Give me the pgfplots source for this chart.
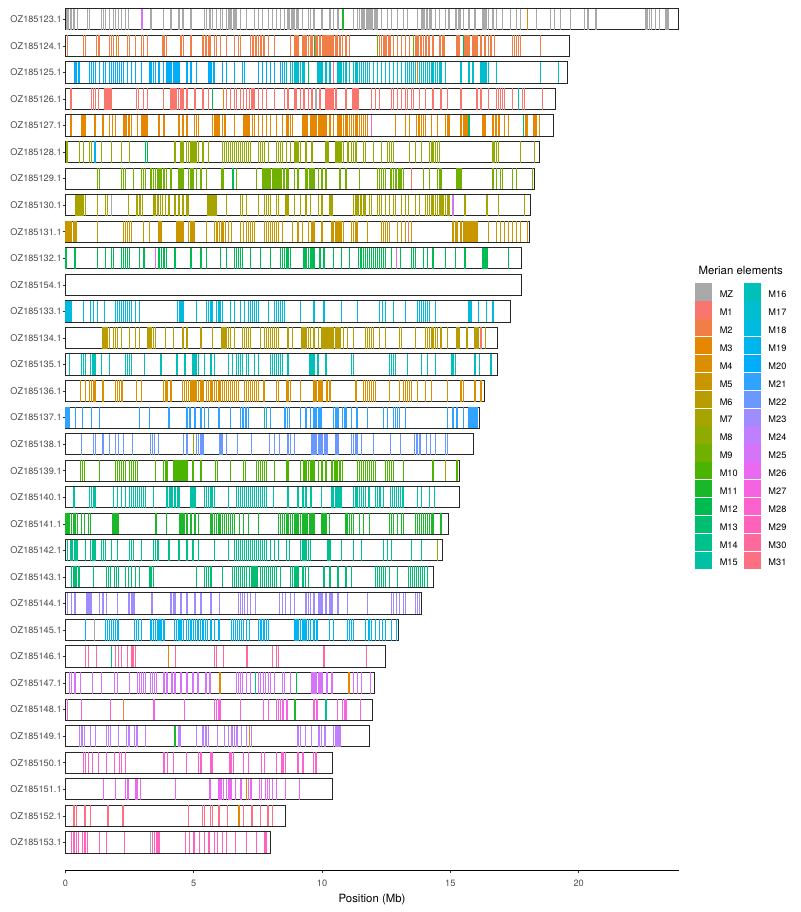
\documentclass[border=0pt]{standalone}
\usepackage{pgfplots}
\pgfplotsset{compat=1.18}
\usepackage{fontspec}
\setmainfont{TeX Gyre Heros}

% Merian element palette
\definecolor{cMZ}{HTML}{A9A9A9}
\definecolor{cM1}{HTML}{F8766D}
\definecolor{cM2}{HTML}{EF7F46}
\definecolor{cM3}{HTML}{E58700}
\definecolor{cM4}{HTML}{D98F00}
\definecolor{cM5}{HTML}{CA9600}
\definecolor{cM6}{HTML}{B99D00}
\definecolor{cM7}{HTML}{A7A400}
\definecolor{cM8}{HTML}{8FAA00}
\definecolor{cM9}{HTML}{71AF00}
\definecolor{cM10}{HTML}{4BB400}
\definecolor{cM11}{HTML}{1AB72A}
\definecolor{cM12}{HTML}{00BB52}
\definecolor{cM13}{HTML}{00BE71}
\definecolor{cM14}{HTML}{00C08C}
\definecolor{cM15}{HTML}{00C1A4}
\definecolor{cM16}{HTML}{00C0B9}
\definecolor{cM17}{HTML}{00BECD}
\definecolor{cM18}{HTML}{00BADF}
\definecolor{cM19}{HTML}{00B4EE}
\definecolor{cM20}{HTML}{00ADFA}
\definecolor{cM21}{HTML}{2FA3FF}
\definecolor{cM22}{HTML}{6A98FF}
\definecolor{cM23}{HTML}{9F8CFF}
\definecolor{cM24}{HTML}{BF7FFF}
\definecolor{cM25}{HTML}{D674F9}
\definecolor{cM26}{HTML}{E96AF0}
\definecolor{cM27}{HTML}{F663E0}
\definecolor{cM28}{HTML}{FC62CE}
\definecolor{cM29}{HTML}{FF62BB}
\definecolor{cM30}{HTML}{FF6A9D}
\definecolor{cM31}{HTML}{FC7082}

% a gene: a thin filled bar spanning the chromosome box height
\pgfdeclareplotmark{genebar}{%
  \pgfpathrectangle{\pgfqpoint{-0.65pt}{-10.6pt}}{\pgfqpoint{1.3pt}{21.2pt}}%
  \pgfusepathqfill}

\pgfplotsset{
  gene/.style={forget plot, only marks, mark=genebar, color=#1,
               mark options={draw=none, fill=#1}},
}

\begin{document}
\begin{tikzpicture}
\begin{axis}[
  scale only axis, width=613.3pt, height=866.6pt,
  xmin=0, xmax=23.9, ymin=-0.04, ymax=32.6,
  axis x line*=bottom, axis y line*=left,
  y axis line style={draw=none},
  x axis line style={line width=0.55pt, -},
  xtick={0,5,10,15,20},
  ytick={1,...,32},
  yticklabels={OZ185153.1,OZ185152.1,OZ185151.1,OZ185150.1,OZ185149.1,OZ185148.1,
    OZ185147.1,OZ185146.1,OZ185145.1,OZ185144.1,OZ185143.1,OZ185142.1,OZ185141.1,
    OZ185140.1,OZ185139.1,OZ185138.1,OZ185137.1,OZ185136.1,OZ185135.1,OZ185134.1,
    OZ185133.1,OZ185154.1,OZ185132.1,OZ185131.1,OZ185130.1,OZ185129.1,OZ185128.1,
    OZ185127.1,OZ185126.1,OZ185125.1,OZ185124.1,OZ185123.1},
  tick align=outside, major tick length=2.75pt,
  tick style={line width=0.55pt, color=black!80},
  ticklabel style={font=\fontsize{9.2}{11}\selectfont, text=black!70},
  xticklabel style={yshift=-4pt},
  yticklabel style={xshift=2.5pt},
  /pgf/number format/assume math mode=true,
  xlabel={Position (Mb)},
  xlabel style={font=\fontsize{11.4}{13}\selectfont},
  clip=false,
  legend columns=2,
  legend cell align=left,
  legend image code/.code={\fill[#1, draw=none] (0pt,-5.5pt) rectangle (17.28pt,11.78pt);},
  legend style={at={(rel axis cs:1.0266,0.6769)}, anchor=north west,
    draw=none, fill=none, inner sep=0pt, outer sep=0pt,
    font=\fontsize{9.2}{11}\selectfont, row sep=0.6pt,
    nodes={inner sep=0pt},
    /tikz/every odd column/.append style={column sep=7.5pt},
    /tikz/every even column/.append style={column sep=6pt}},
]

% ---- OZ185123.1 (y=32)
\addplot[gene=cMZ] coordinates {(0.06,32)(0.12,32)(0.22,32)(0.33,32)(0.48,32)(0.87,32)(0.94,32)(1.41,32)(1.49,32)(1.56,32)(1.72,32)(1.87,32)(1.95,32)(2.07,32)(2.18,32)(2.34,32)(2.45,32)(3.34,32)(3.81,32)(4.12,32)(4.43,32)(4.58,32)(4.89,32)(5.43,32)(5.51,32)(5.63,32)(5.74,32)(5.90,32)(6.05,32)(6.13,32)(6.28,32)(6.36,32)(6.42,32)(6.48,32)(6.55,32)(6.61,32)(6.67,32)(6.83,32)(7.06,32)(7.37,32)(7.52,32)(7.68,32)(7.91,32)(8.07,32)(8.22,32)(8.37,32)(8.53,32)(8.68,32)(8.74,32)(8.80,32)(8.87,32)(8.93,32)(9.00,32)(9.07,32)(9.23,32)(9.46,32)(9.54,32)(9.69,32)(10.0,32)(10.31,32)(10.46,32)(10.62,32)(11.24,32)(11.39,32)(11.47,32)(11.53,32)(11.60,32)(11.66,32)(11.72,32)(11.79,32)(11.85,32)(11.91,32)(11.98,32)(12.04,32)(12.10,32)(12.17,32)(12.33,32)(12.55,32)(12.71,32)(12.94,32)(13.17,32)(13.33,32)(13.72,32)(13.87,32)(13.93,32)(14.0,32)(14.06,32)(14.12,32)(14.19,32)(14.25,32)(14.41,32)(14.57,32)(14.80,32)(14.95,32)(15.19,32)(15.25,32)(15.31,32)(15.38,32)(15.5,32)(15.73,32)(15.96,32)(16.27,32)(16.33,32)(16.39,32)(16.5,32)(16.66,32)(16.81,32)(17.04,32)(17.35,32)(17.59,32)(17.74,32)(18.36,32)(18.9,32)(19.05,32)(19.29,32)(19.67,32)(20.22,32)(20.37,32)(20.68,32)(22.62,32)(22.69,32)(22.77,32)(22.85,32)(23.0,32)(23.16,32)(23.39,32)(23.44,32)(23.48,32)};
\addplot[gene=cM25] coordinates {(2.99,32)};
\addplot[gene=cM11] coordinates {(10.82,32)};
\addplot[gene=cM4] coordinates {(18.02,32)};

% ---- OZ185124.1 (y=31)
\addplot[gene=cM2] coordinates {(0.09,31)(0.71,31)(0.79,31)(1.21,31)(1.28,31)(1.33,31)(1.72,31)(1.80,31)(1.87,31)(2.07,31)(2.41,31)(2.49,31)(2.72,31)(2.96,31)(3.03,31)(3.19,31)(3.78,31)(3.84,31)(3.93,31)(4.5,31)(4.61,31)(4.89,31)(5.33,31)(5.39,31)(5.45,31)(5.51,31)(5.58,31)(5.63,31)(5.82,31)(5.90,31)(6.05,31)(6.28,31)(6.59,31)(6.75,31)(6.83,31)(7.21,31)(7.28,31)(7.34,31)(7.40,31)(7.46,31)(7.52,31)(7.59,31)(7.65,31)(7.71,31)(7.76,31)(7.91,31)(8.14,31)(8.76,31)(8.92,31)(8.99,31)(9.07,31)(9.23,31)(9.30,31)(9.38,31)(9.46,31)(9.57,31)(9.63,31)(9.77,31)(9.83,31)(9.89,31)(9.95,31)(10.02,31)(10.08,31)(10.14,31)(10.2,31)(10.27,31)(10.33,31)(10.39,31)(10.45,31)(10.52,31)(10.58,31)(10.7,31)(10.8,31)(10.93,31)(11.08,31)(12.24,31)(12.32,31)(12.40,31)(12.46,31)(12.52,31)(12.59,31)(12.65,31)(12.79,31)(12.94,31)(13.1,31)(13.25,31)(13.41,31)(13.64,31)(13.7,31)(13.76,31)(13.83,31)(13.89,31)(13.95,31)(14.02,31)(14.08,31)(14.14,31)(14.2,31)(14.33,31)(14.57,31)(14.63,31)(14.71,31)(14.77,31)(15.26,31)(15.34,31)(15.57,31)(15.65,31)(15.73,31)(15.88,31)(15.96,31)(16.04,31)(16.19,31)(16.35,31)(16.5,31)(16.58,31)(16.73,31)(17.43,31)(17.5,31)(17.57,31)(17.65,31)(17.74,31)(18.51,31)};
\addplot[gene=cM4] coordinates {(2.0,31)};
\addplot[gene=cM12] coordinates {(9.71,31)(15.5,31)};
\addplot[gene=cM9] coordinates {(12.17,31)(13.56,31)};

% ---- OZ185125.1 (y=30)
\addplot[gene=cM20] coordinates {(0.37,30)(0.43,30)(0.5,30)(0.56,30)(0.94,30)(1.02,30)(1.1,30)(1.18,30)(1.33,30)(1.49,30)(1.56,30)(1.72,30)(1.80,30)(1.87,30)(1.95,30)(2.03,30)(2.11,30)(2.18,30)(2.26,30)(2.41,30)(2.57,30)(2.72,30)(2.96,30)(3.27,30)(3.34,30)(3.42,30)(3.5,30)(3.65,30)(3.81,30)(3.96,30)(4.04,30)(4.12,30)(4.2,30)(4.27,30)(4.35,30)(4.43,30)(4.74,30)(4.89,30)(5.12,30)(5.59,30)(5.63,30)(5.7,30)(5.76,30)(5.82,30)(6.13,30)(6.28,30)(6.59,30)(6.9,30)(6.98,30)(7.52,30)(7.68,30)(7.83,30)(7.99,30)(8.14,30)(8.37,30)(8.45,30)};
\addplot[gene=cM17] coordinates {(8.53,30)(8.61,30)(8.76,30)(8.84,30)(8.92,30)(8.99,30)(9.07,30)(9.15,30)(9.23,30)(9.3,30)(9.84,30)(9.92,30)(10.0,30)(10.15,30)(10.31,30)(10.62,30)(10.7,30)(10.77,30)(10.85,30)(10.93,30)(11.08,30)(11.24,30)(11.32,30)(11.39,30)(11.47,30)(11.55,30)(11.63,30)(11.7,30)(11.78,30)(11.86,30)(12.01,30)(12.17,30)(12.32,30)(12.48,30)(12.63,30)(12.79,30)(12.94,30)(13.1,30)(13.25,30)(13.33,30)(13.41,30)(13.48,30)(13.56,30)(13.64,30)(13.79,30)(13.87,30)(13.95,30)(14.02,30)(14.1,30)(14.18,30)(14.26,30)(14.33,30)(14.41,30)(14.49,30)(14.57,30)(14.64,30)(14.8,30)(15.42,30)(15.73,30)(15.88,30)(16.19,30)(16.27,30)(16.35,30)(16.42,30)(16.5,30)(16.81,30)(18.51,30)(19.21,30)};
\addplot[gene=cM12] coordinates {(9.46,30)};
\addplot[gene=cM30] coordinates {(10.46,30)};
\addplot[gene=cM3] coordinates {(13.72,30)};

% ---- OZ185126.1 (y=29)
\addplot[gene=cM1] coordinates {(0.22,29)(1.02,29)(1.1,29)(1.18,29)(1.28,29)(1.52,29)(1.58,29)(1.64,29)(1.7,29)(1.76,29)(1.8,29)(2.76,29)(2.85,29)(3.03,29)(3.19,29)(3.81,29)(4.09,29)(4.15,29)(4.21,29)(4.27,29)(4.33,29)(4.4,29)(4.5,29)(4.58,29)(4.74,29)(5.05,29)(5.36,29)(5.59,29)(6.28,29)(6.44,29)(6.59,29)(6.67,29)(6.83,29)(6.94,29)(7.06,29)(7.18,29)(7.24,29)(7.31,29)(7.37,29)(7.52,29)(7.68,29)(7.83,29)(8.14,29)(8.53,29)(8.68,29)(8.92,29)(8.99,29)(9.15,29)(9.3,29)(9.46,29)(9.61,29)(9.92,29)(10.15,29)(10.23,29)(10.31,29)(10.39,29)(10.46,29)(10.54,29)(10.93,29)(11.21,29)(11.27,29)(11.33,29)(11.39,29)(11.42,29)(11.93,29)(12.09,29)(12.24,29)(12.71,29)(12.79,29)(12.94,29)(13.1,29)(13.25,29)(13.33,29)(13.48,29)(13.56,29)(13.79,29)(14.02,29)(14.33,29)(14.64,29)(14.88,29)(15.42,29)(16.04,29)(16.19,29)(16.5,29)(16.81,29)(16.89,29)(16.96,29)(17.04,29)(17.12,29)(17.43,29)(17.82,29)(17.89,29)(18.59,29)};
\addplot[gene=cM12] coordinates {(5.74,29)};
\addplot[gene=cM3] coordinates {(6.16,29)};
\addplot[gene=cMZ] coordinates {(9.77,29)};
\addplot[gene=cM16] coordinates {(17.66,29)};

% ---- OZ185127.1 (y=28)
\addplot[gene=cM3] coordinates {(0.22,28)(0.63,28)(0.68,28)(0.73,28)(0.77,28)(1.15,28)(1.46,28)(1.72,28)(1.83,28)(1.95,28)(2.26,28)(2.32,28)(2.38,28)(2.45,28)(2.51,28)(2.57,28)(2.8,28)(2.96,28)(3.02,28)(3.08,28)(3.14,28)(3.19,28)(3.65,28)(3.84,28)(4.43,28)(4.58,28)(4.74,28)(5.02,28)(5.12,28)(5.2,28)(5.74,28)(5.8,28)(5.87,28)(5.93,28)(5.98,28)(6.13,28)(6.19,28)(6.25,28)(6.59,28)(6.93,28)(7.0,28)(7.06,28)(7.12,28)(7.18,28)(7.29,28)(7.37,28)(7.52,28)(7.68,28)(7.83,28)(7.99,28)(8.22,28)(8.45,28)(8.61,28)(8.68,28)(8.76,28)(8.84,28)(9.26,28)(9.32,28)(9.38,28)(9.44,28)(9.54,28)(9.61,28)(9.69,28)(9.77,28)(9.85,28)(9.92,28)(10.0,28)(10.08,28)(10.15,28)(10.31,28)(10.46,28)(10.62,28)(10.7,28)(10.77,28)(10.85,28)(10.93,28)(11.0,28)(11.08,28)(11.16,28)(11.24,28)(11.32,28)(11.39,28)(11.47,28)(11.55,28)(11.63,28)(11.7,28)(11.78,28)(12.86,28)(13.25,28)(13.41,28)(13.68,28)(13.75,28)(13.81,28)(13.87,28)(13.95,28)(14.02,28)(14.26,28)(14.49,28)(14.8,28)(14.88,28)(14.95,28)(15.42,28)(15.5,28)(15.57,28)(15.65,28)(16.27,28)(16.35,28)(16.63,28)(16.69,28)(16.75,28)(16.81,28)(16.87,28)(16.93,28)(17.12,28)(17.28,28)(17.93,28)(17.99,28)(18.24,28)(18.3,28)(18.36,28)(18.48,28)};
\addplot[gene=cM28] coordinates {(11.93,28)};
\addplot[gene=cM13] coordinates {(15.73,28)(17.85,28)};

% ---- OZ185128.1 (y=27)
\addplot[gene=cM8] coordinates {(0.06,27)(0.56,27)(0.71,27)(0.94,27)(1.02,27)(1.41,27)(1.8,27)(2.18,27)(2.49,27)(4.27,27)(4.5,27)(4.58,27)(4.71,27)(4.81,27)(4.89,27)(4.97,27)(5.05,27)(5.12,27)(5.2,27)(5.36,27)(5.59,27)(6.13,27)(6.21,27)(6.28,27)(6.36,27)(6.44,27)(6.52,27)(6.59,27)(6.67,27)(6.75,27)(6.83,27)(6.9,27)(6.98,27)(7.06,27)(7.14,27)(7.21,27)(7.52,27)(7.6,27)(7.68,27)(7.76,27)(7.91,27)(8.22,27)(8.3,27)(8.37,27)(8.45,27)(8.61,27)(8.76,27)(8.92,27)(8.99,27)(9.07,27)(9.15,27)(9.38,27)(9.61,27)(10.15,27)(10.23,27)(10.54,27)(10.62,27)(10.7,27)(10.77,27)(10.85,27)(11.01,27)(11.16,27)(11.24,27)(11.32,27)(11.63,27)(11.7,27)(12.01,27)(12.32,27)(12.55,27)(12.63,27)(12.71,27)(12.79,27)(13.41,27)(13.64,27)(13.87,27)(14.18,27)(14.26,27)(14.33,27)(14.41,27)(14.49,27)(14.57,27)(16.66,27)(16.73,27)(16.81,27)(16.89,27)(17.74,27)(18.28,27)};
\addplot[gene=cM19] coordinates {(1.15,27)};
\addplot[gene=cM12] coordinates {(3.11,27)(3.19,27)};

% ---- OZ185129.1 (y=26)
\addplot[gene=cM9] coordinates {(1.25,26)(1.33,26)(2.18,26)(2.26,26)(2.34,26)(2.65,26)(2.96,26)(3.03,26)(3.11,26)(3.34,26)(3.42,26)(3.5,26)(3.58,26)(3.65,26)(3.73,26)(3.84,26)(3.93,26)(4.12,26)(4.43,26)(4.5,26)(4.58,26)(4.81,26)(4.89,26)(4.97,26)(5.12,26)(5.28,26)(5.51,26)(6.1,26)(6.16,26)(6.67,26)(7.45,26)(7.68,26)(7.74,26)(7.8,26)(7.86,26)(7.93,26)(7.99,26)(8.06,26)(8.11,26)(8.17,26)(8.24,26)(8.3,26)(8.36,26)(8.42,26)(8.49,26)(8.55,26)(8.61,26)(8.68,26)(8.92,26)(9.07,26)(9.38,26)(9.44,26)(9.5,26)(9.57,26)(9.63,26)(9.69,26)(9.85,26)(10.0,26)(10.15,26)(10.7,26)(10.93,26)(11.47,26)(12.17,26)(12.24,26)(12.32,26)(12.4,26)(12.48,26)(12.66,26)(12.72,26)(12.79,26)(12.85,26)(12.91,26)(12.97,26)(13.04,26)(13.1,26)(13.17,26)(13.95,26)(14.18,26)(14.49,26)(14.57,26)(14.64,26)(15.26,26)(15.34,26)(15.42,26)(16.66,26)(16.81,26)(16.96,26)(17.04,26)(17.43,26)(17.59,26)(18.21,26)};
\addplot[gene=cM12] coordinates {(6.53,26)};
\addplot[gene=cM1] coordinates {(13.48,26)};

% ---- OZ185130.1 (y=25)
\addplot[gene=cM7] coordinates {(0.41,25)(0.47,25)(0.53,25)(0.59,25)(0.65,25)(0.71,25)(0.77,25)(1.25,25)(1.56,25)(1.64,25)(2.45,25)(2.76,25)(2.82,25)(2.88,25)(2.94,25)(3.0,25)(3.45,25)(3.51,25)(3.58,25)(3.64,25)(3.7,25)(3.78,25)(3.89,25)(4.04,25)(4.27,25)(4.43,25)(4.58,25)(4.74,25)(4.81,25)(5.54,25)(5.6,25)(5.67,25)(5.73,25)(5.79,25)(5.85,25)(5.9,25)(6.28,25)(6.83,25)(6.9,25)(7.06,25)(7.52,25)(7.76,25)(7.83,25)(7.91,25)(7.99,25)(8.22,25)(8.3,25)(8.58,25)(8.64,25)(8.7,25)(8.92,25)(9.15,25)(9.38,25)(9.54,25)(9.85,25)(10.0,25)(10.31,25)(10.39,25)(11.24,25)(11.3,25)(11.36,25)(11.42,25)(11.49,25)(11.55,25)(11.61,25)(11.67,25)(11.86,25)(11.93,25)(12.17,25)(12.24,25)(12.32,25)(12.48,25)(12.63,25)(12.79,25)(12.86,25)(13.1,25)(13.25,25)(13.37,25)(13.64,25)(13.79,25)(14.02,25)(14.1,25)(14.18,25)(14.26,25)(14.33,25)(14.41,25)(14.49,25)(14.57,25)(14.64,25)(14.72,25)(14.8,25)(14.88,25)(14.95,25)(15.57,25)(16.43,25)(16.89,25)(17.89,25)};
\addplot[gene=cMZ] coordinates {(1.8,25)};
\addplot[gene=cM25] coordinates {(15.11,25)};

% ---- OZ185131.1 (y=24)
\addplot[gene=cM5] coordinates {(0.02,24)(0.1,24)(0.18,24)(0.25,24)(0.33,24)(0.41,24)(1.25,24)(2.26,24)(2.34,24)(2.41,24)(2.49,24)(2.57,24)(3.03,24)(3.27,24)(3.65,24)(3.73,24)(4.35,24)(4.43,24)(4.5,24)(4.58,24)(4.81,24)(4.89,24)(4.97,24)(5.02,24)(5.51,24)(5.82,24)(5.88,24)(5.94,24)(6.01,24)(6.07,24)(6.13,24)(6.16,24)(6.25,24)(6.36,24)(6.47,24)(6.83,24)(6.94,24)(7.06,24)(7.14,24)(7.21,24)(7.29,24)(7.37,24)(7.76,24)(7.83,24)(7.91,24)(7.99,24)(8.07,24)(8.14,24)(8.22,24)(8.3,24)(8.45,24)(8.84,24)(9.07,24)(9.23,24)(9.46,24)(9.61,24)(9.69,24)(10.0,24)(10.39,24)(10.46,24)(10.54,24)(10.62,24)(10.7,24)(10.77,24)(10.85,24)(11.16,24)(11.24,24)(11.32,24)(11.36,24)(11.78,24)(12.32,24)(12.4,24)(12.48,24)(12.55,24)(12.63,24)(12.94,24)(13.1,24)(13.25,24)(13.48,24)(15.11,24)(15.19,24)(15.26,24)(15.42,24)(15.5,24)(15.57,24)(15.65,24)(15.73,24)(15.8,24)(15.88,24)(15.96,24)(16.04,24)(16.5,24)(16.81,24)(16.96,24)(17.12,24)(17.28,24)(17.43,24)(17.59,24)(17.74,24)};
\addplot[gene=cM1] coordinates {(13.37,24)};
\addplot[gene=cM3] coordinates {(18.02,24)};

% ---- OZ185132.1 (y=23)
\addplot[gene=cM12] coordinates {(0.02,23)(0.37,23)(1.25,23)(1.56,23)(1.8,23)(1.87,23)(2.18,23)(2.26,23)(2.34,23)(2.41,23)(2.49,23)(2.88,23)(3.03,23)(3.08,23)(3.62,23)(3.68,23)(3.75,23)(3.81,23)(3.87,23)(3.93,23)(4.27,23)(4.89,23)(5.28,23)(5.51,23)(6.05,23)(6.28,23)(6.59,23)(6.67,23)(6.75,23)(6.83,23)(6.9,23)(7.21,23)(7.6,23)(7.99,23)(8.37,23)(8.45,23)(8.53,23)(8.61,23)(8.68,23)(8.76,23)(9.3,23)(9.38,23)(9.46,23)(9.54,23)(9.61,23)(9.69,23)(9.92,23)(10.08,23)(10.46,23)(10.77,23)(11.08,23)(11.42,23)(11.49,23)(11.55,23)(11.63,23)(11.7,23)(11.78,23)(11.86,23)(11.93,23)(12.01,23)(12.09,23)(12.17,23)(12.24,23)(12.32,23)(12.4,23)(12.48,23)(12.71,23)(13.07,23)(13.48,23)(13.56,23)(13.64,23)(13.95,23)(14.1,23)(14.33,23)(14.8,23)(15.19,23)(15.57,23)(16.27,23)(16.35,23)(16.43,23)(17.28,23)};
\addplot[gene=cM26] coordinates {(3.5,23)(12.91,23)};

% ---- OZ185133.1 (y=21)
\addplot[gene=cM18] coordinates {(0.02,21)(0.1,21)(0.18,21)(0.25,21)(0.71,21)(0.99,21)(1.1,21)(1.25,21)(1.52,21)(1.95,21)(2.03,21)(2.11,21)(2.18,21)(2.26,21)(2.34,21)(2.41,21)(2.49,21)(2.57,21)(2.72,21)(2.88,21)(4.38,21)(4.46,21)(4.54,21)(4.61,21)(5.12,21)(5.51,21)(5.59,21)(5.67,21)(5.74,21)(5.9,21)(5.98,21)(6.05,21)(6.13,21)(6.44,21)(6.59,21)(6.83,21)(6.98,21)(7.14,21)(7.21,21)(7.29,21)(7.37,21)(7.45,21)(7.52,21)(7.91,21)(8.14,21)(8.22,21)(8.3,21)(8.37,21)(8.45,21)(8.53,21)(9.15,21)(9.69,21)(10.08,21)(10.77,21)(11.39,21)(12.24,21)(12.35,21)(12.48,21)(12.79,21)(13.25,21)(13.72,21)(13.79,21)(13.87,21)(13.95,21)(14.02,21)(14.1,21)(14.18,21)(14.41,21)(15.73,21)(15.8,21)(16.11,21)(16.42,21)(16.66,21)};

% ---- OZ185134.1 (y=20)
\addplot[gene=cM6] coordinates {(1.46,20)(1.52,20)(1.58,20)(1.64,20)(1.72,20)(1.87,20)(1.95,20)(2.03,20)(2.18,20)(2.49,20)(2.72,20)(2.88,20)(3.22,20)(3.28,20)(3.34,20)(3.42,20)(3.5,20)(3.89,20)(4.2,20)(4.58,20)(4.74,20)(5.28,20)(5.74,20)(6.1,20)(6.16,20)(6.22,20)(6.28,20)(6.36,20)(6.44,20)(6.59,20)(6.9,20)(6.98,20)(7.06,20)(7.14,20)(7.21,20)(7.6,20)(7.76,20)(7.83,20)(7.91,20)(7.99,20)(8.07,20)(8.14,20)(8.22,20)(8.3,20)(8.68,20)(8.84,20)(9.2,20)(9.26,20)(9.32,20)(9.38,20)(9.46,20)(9.54,20)(9.69,20)(9.85,20)(10.0,20)(10.08,20)(10.15,20)(10.23,20)(10.31,20)(10.39,20)(10.46,20)(10.54,20)(10.62,20)(10.7,20)(10.85,20)(11.0,20)(11.24,20)(11.7,20)(11.78,20)(11.86,20)(11.93,20)(12.01,20)(12.24,20)(12.48,20)(13.02,20)(13.1,20)(13.64,20)(14.02,20)(14.1,20)(14.18,20)(14.26,20)(14.33,20)(14.41,20)(14.49,20)(14.64,20)(14.88,20)(15.26,20)(15.34,20)(15.65,20)(15.96,20)(16.04,20)(16.11,20)(16.38,20)};
\addplot[gene=cM1] coordinates {(16.19,20)};

% ---- OZ185135.1 (y=19)
\addplot[gene=cM16] coordinates {(0.17,19)(0.64,19)(0.71,19)(0.79,19)(0.99,19)(1.07,19)(1.15,19)(1.41,19)(1.72,19)(2.34,19)(2.41,19)(2.49,19)(2.57,19)(3.07,19)(3.73,19)(4.35,19)(4.66,19)(4.97,19)(5.05,19)(5.12,19)(5.2,19)(5.43,19)(5.67,19)(5.82,19)(6.36,19)(6.52,19)(6.67,19)(6.75,19)(6.83,19)(6.9,19)(7.06,19)(7.14,19)(7.37,19)(7.52,19)(7.99,19)(8.07,19)(8.14,19)(8.22,19)(8.3,19)(8.37,19)(8.45,19)(8.68,19)(9.5,19)(9.57,19)(9.63,19)(9.69,19)(9.84,19)(10.15,19)(11.16,19)(11.24,19)(12.63,19)(12.71,19)(12.79,19)(12.86,19)(13.33,19)(13.87,19)(14.1,19)(14.41,19)(15.04,19)(15.11,19)(15.19,19)(15.96,19)(16.15,19)(16.58,19)};

% ---- OZ185136.1 (y=18)
\addplot[gene=cM4] coordinates {(0.59,18)(0.79,18)(0.94,18)(1.02,18)(1.1,18)(1.15,18)(1.46,18)(1.95,18)(2.03,18)(2.11,18)(2.18,18)(2.23,18)(2.76,18)(2.96,18)(3.81,18)(3.89,18)(3.96,18)(4.12,18)(4.55,18)(4.63,18)(4.71,18)(4.81,18)(4.89,18)(4.97,18)(5.05,18)(5.12,18)(5.2,18)(5.28,18)(5.36,18)(5.51,18)(5.59,18)(5.67,18)(5.74,18)(5.82,18)(5.9,18)(5.98,18)(6.05,18)(6.13,18)(6.21,18)(6.28,18)(6.36,18)(6.44,18)(6.52,18)(6.59,18)(6.67,18)(6.75,18)(6.98,18)(7.06,18)(7.14,18)(7.21,18)(7.29,18)(7.37,18)(7.45,18)(7.52,18)(7.71,18)(7.76,18)(8.22,18)(8.3,18)(8.61,18)(8.68,18)(8.76,18)(9.15,18)(9.69,18)(9.77,18)(9.85,18)(9.92,18)(10.0,18)(10.19,18)(10.31,18)(11.32,18)(11.63,18)(11.7,18)(11.78,18)(11.86,18)(11.93,18)(12.01,18)(12.09,18)(12.63,18)(13.02,18)(13.17,18)(13.25,18)(13.33,18)(13.41,18)(13.48,18)(13.72,18)(14.02,18)(14.26,18)(14.88,18)(15.42,18)(15.5,18)(15.96,18)(16.19,18)};

% ---- OZ185137.1 (y=17)
\addplot[gene=cM21] coordinates {(0.02,17)(0.1,17)(0.17,17)(0.4,17)(0.68,17)(1.02,17)(1.33,17)(2.88,17)(3.27,17)(4.04,17)(4.71,17)(4.77,17)(4.83,17)(4.86,17)(5.05,17)(5.28,17)(5.43,17)(5.59,17)(5.98,17)(6.44,17)(6.83,17)(6.89,17)(6.95,17)(7.01,17)(7.07,17)(7.14,17)(7.83,17)(7.99,17)(8.53,17)(8.59,17)(8.65,17)(8.73,17)(9.15,17)(9.38,17)(9.54,17)(9.69,17)(9.77,17)(9.85,17)(9.92,17)(9.97,17)(10.46,17)(10.54,17)(10.62,17)(10.8,17)(10.87,17)(10.93,17)(11.16,17)(11.36,17)(11.78,17)(12.4,17)(12.55,17)(12.79,17)(12.86,17)(12.94,17)(13.02,17)(13.25,17)(14.88,17)(15.11,17)(15.26,17)(15.5,17)(15.73,17)(15.8,17)(15.88,17)(15.96,17)(16.04,17)};
\addplot[gene=cM14] coordinates {(7.76,17)};

% ---- OZ185138.1 (y=16)
\addplot[gene=cM22] coordinates {(0.63,16)(1.1,16)(1.18,16)(1.46,16)(1.72,16)(1.95,16)(2.07,16)(2.26,16)(2.62,16)(3.31,16)(3.39,16)(3.47,16)(3.62,16)(4.61,16)(4.74,16)(5.12,16)(5.2,16)(5.28,16)(5.36,16)(6.02,16)(6.1,16)(6.28,16)(6.72,16)(7.24,16)(7.96,16)(8.14,16)(8.34,16)(8.68,16)(8.76,16)(8.92,16)(9.61,16)(9.69,16)(9.77,16)(9.85,16)(9.92,16)(10.0,16)(10.12,16)(10.19,16)(10.54,16)(10.62,16)(11.16,16)(11.24,16)(11.32,16)(11.36,16)(11.55,16)(12.01,16)(12.68,16)(13.07,16)(13.61,16)(13.67,16)(13.73,16)(13.79,16)(13.84,16)(14.07,16)(14.23,16)(14.41,16)(14.8,16)(14.88,16)};
\addplot[gene=cM8] coordinates {(5.0,16)};

% ---- OZ185139.1 (y=15)
\addplot[gene=cM10] coordinates {(0.59,15)(0.67,15)(0.74,15)(1.33,15)(1.95,15)(2.03,15)(2.11,15)(2.18,15)(2.26,15)(2.34,15)(2.49,15)(2.57,15)(2.65,15)(2.72,15)(2.8,15)(3.5,15)(3.81,15)(3.89,15)(3.96,15)(4.2,15)(4.27,15)(4.35,15)(4.43,15)(4.5,15)(4.58,15)(4.66,15)(4.74,15)(4.97,15)(5.28,15)(5.85,15)(5.94,15)(6.44,15)(6.94,15)(7.03,15)(7.45,15)(7.52,15)(7.6,15)(7.68,15)(7.76,15)(7.83,15)(8.14,15)(8.61,15)(8.68,15)(9.15,15)(9.3,15)(9.38,15)(9.46,15)(9.54,15)(9.61,15)(9.69,15)(9.85,15)(10.0,15)(10.15,15)(10.36,15)(10.42,15)(10.48,15)(10.54,15)(10.6,15)(10.67,15)(10.73,15)(10.8,15)(11.39,15)(11.47,15)(11.55,15)(11.63,15)(11.7,15)(11.78,15)(11.86,15)(11.93,15)(12.01,15)(12.09,15)(12.48,15)(12.55,15)(12.63,15)(12.71,15)(12.79,15)(13.17,15)(14.33,15)(15.26,15)};
\addplot[gene=cM7] coordinates {(14.8,15)};

% ---- OZ185140.1 (y=14)
\addplot[gene=cM15] coordinates {(0.33,14)(0.94,14)(1.02,14)(1.1,14)(1.15,14)(1.88,14)(2.03,14)(2.18,14)(2.34,14)(2.49,14)(2.57,14)(2.65,14)(2.72,14)(2.8,14)(2.88,14)(2.96,14)(3.03,14)(3.11,14)(3.42,14)(3.93,14)(3.99,14)(4.06,14)(4.12,14)(4.18,14)(4.24,14)(4.3,14)(4.37,14)(4.43,14)(4.89,14)(4.97,14)(5.05,14)(5.43,14)(5.51,14)(5.59,14)(5.67,14)(5.74,14)(5.82,14)(6.36,14)(6.67,14)(6.75,14)(6.83,14)(6.9,14)(6.98,14)(7.06,14)(7.14,14)(7.21,14)(7.29,14)(7.37,14)(7.45,14)(7.52,14)(7.6,14)(7.68,14)(7.76,14)(7.83,14)(8.11,14)(8.68,14)(9.07,14)(9.26,14)(9.38,14)(9.57,14)(9.97,14)(10.39,14)(10.46,14)(10.54,14)(10.62,14)(10.7,14)(10.74,14)(11.24,14)(11.32,14)(11.39,14)(11.47,14)(11.55,14)(11.63,14)(11.7,14)(11.83,14)(12.09,14)(12.17,14)(12.24,14)(12.29,14)(12.4,14)(12.66,14)(12.74,14)(12.82,14)(12.9,14)(12.97,14)(13.05,14)(13.13,14)(13.17,14)(13.72,14)(13.87,14)(14.18,14)(14.37,14)};

% ---- OZ185141.1 (y=13)
\addplot[gene=cM11] coordinates {(0.02,13)(0.1,13)(0.17,13)(0.25,13)(0.33,13)(0.4,13)(0.48,13)(0.63,13)(0.74,13)(0.9,13)(0.99,13)(1.83,13)(1.89,13)(1.95,13)(2.01,13)(2.07,13)(3.53,13)(3.93,13)(4.46,13)(4.52,13)(4.58,13)(4.64,13)(4.74,13)(4.89,13)(5.05,13)(5.2,13)(5.67,13)(5.74,13)(5.82,13)(5.9,13)(5.98,13)(6.05,13)(6.13,13)(6.21,13)(6.28,13)(6.36,13)(6.44,13)(6.52,13)(6.59,13)(6.78,13)(6.93,13)(7.14,13)(7.52,13)(8.3,13)(8.37,13)(8.45,13)(8.53,13)(8.61,13)(8.68,13)(8.76,13)(8.84,13)(8.92,13)(8.99,13)(9.07,13)(9.15,13)(9.26,13)(9.32,13)(9.38,13)(9.44,13)(9.5,13)(9.57,13)(9.63,13)(9.69,13)(10.0,13)(10.08,13)(10.15,13)(10.28,13)(10.93,13)(11.0,13)(11.08,13)(11.16,13)(11.24,13)(11.47,13)(11.63,13)(11.86,13)(12.63,13)(12.71,13)(12.79,13)(12.94,13)(13.1,13)(13.17,13)(13.64,13)(13.72,13)(13.79,13)(13.87,13)(13.95,13)(14.02,13)(14.1,13)(14.18,13)(14.26,13)(14.33,13)(14.64,13)};

% ---- OZ185142.1 (y=12)
\addplot[gene=cM14] coordinates {(0.09,12)(0.22,12)(0.29,12)(0.37,12)(0.45,12)(0.79,12)(0.99,12)(1.07,12)(1.15,12)(1.41,12)(1.49,12)(1.56,12)(1.8,12)(2.03,12)(2.49,12)(2.57,12)(2.65,12)(2.96,12)(3.42,12)(3.5,12)(3.58,12)(3.62,12)(4.04,12)(4.43,12)(4.74,12)(4.97,12)(5.2,12)(5.82,12)(6.36,12)(6.59,12)(6.67,12)(6.75,12)(6.83,12)(6.9,12)(6.98,12)(7.06,12)(7.14,12)(7.21,12)(7.29,12)(7.37,12)(7.45,12)(7.52,12)(7.6,12)(7.68,12)(7.76,12)(7.83,12)(7.99,12)(8.14,12)(8.3,12)(8.61,12)(8.73,12)(9.15,12)(9.23,12)(9.3,12)(9.38,12)(9.46,12)(9.54,12)(10.23,12)(10.31,12)(10.77,12)(11.24,12)(11.55,12)(12.4,12)(12.55,12)(12.71,12)(13.48,12)(13.87,12)};
\addplot[gene=cM8] coordinates {(14.49,12)};

% ---- OZ185143.1 (y=11)
\addplot[gene=cM13] coordinates {(0.25,11)(0.31,11)(0.37,11)(0.43,11)(0.53,11)(1.1,11)(1.61,11)(1.69,11)(1.76,11)(1.92,11)(2.0,11)(2.07,11)(2.34,11)(2.45,11)(2.57,11)(2.72,11)(2.88,11)(3.27,11)(3.34,11)(3.42,11)(5.12,11)(5.43,11)(5.51,11)(5.59,11)(5.67,11)(6.13,11)(6.52,11)(6.59,11)(6.67,11)(6.75,11)(6.83,11)(6.9,11)(6.98,11)(7.06,11)(7.18,11)(7.24,11)(7.31,11)(7.37,11)(7.43,11)(7.49,11)(7.6,11)(7.68,11)(7.76,11)(7.83,11)(7.91,11)(7.99,11)(8.07,11)(8.14,11)(8.22,11)(8.37,11)(8.76,11)(8.84,11)(8.92,11)(8.99,11)(9.07,11)(9.26,11)(9.35,11)(9.46,11)(10.08,11)(10.31,11)(10.62,11)(10.93,11)(11.16,11)(12.09,11)(12.17,11)(12.24,11)(12.32,11)(12.4,11)(12.48,11)(12.63,11)(12.94,11)(13.37,11)(13.45,11)(13.53,11)(13.61,11)(13.68,11)(13.76,11)(13.84,11)(13.92,11)(13.99,11)(14.1,11)};

% ---- OZ185144.1 (y=10)
\addplot[gene=cM23] coordinates {(0.09,10)(0.25,10)(0.37,10)(0.84,10)(0.9,10)(0.96,10)(1.02,10)(1.33,10)(1.46,10)(1.61,10)(2.03,10)(2.45,10)(2.51,10)(2.57,10)(2.63,10)(2.69,10)(3.37,10)(4.12,10)(4.2,10)(4.27,10)(4.5,10)(4.74,10)(5.05,10)(5.28,10)(5.67,10)(6.01,10)(6.75,10)(6.83,10)(6.9,10)(6.98,10)(7.09,10)(7.21,10)(7.41,10)(8.33,10)(8.45,10)(8.58,10)(8.76,10)(8.92,10)(9.38,10)(9.46,10)(9.54,10)(9.69,10)(9.85,10)(9.92,10)(10.0,10)(10.15,10)(10.31,10)(10.39,10)(10.62,10)(11.0,10)(11.78,10)(12.71,10)(12.79,10)(12.91,10)(13.02,10)(13.17,10)(13.25,10)(13.64,10)(13.72,10)(13.79,10)};

% ---- OZ185145.1 (y=9)
\addplot[gene=cM19] coordinates {(0.79,9)(1.56,9)(1.64,9)(1.72,9)(1.8,9)(1.87,9)(1.95,9)(2.03,9)(2.07,9)(2.69,9)(2.77,9)(2.85,9)(2.96,9)(3.34,9)(3.42,9)(3.5,9)(3.58,9)(3.65,9)(3.73,9)(3.84,9)(4.24,9)(4.32,9)(4.43,9)(4.5,9)(4.61,9)(4.71,9)(4.8,9)(4.89,9)(4.98,9)(5.08,9)(5.17,9)(5.26,9)(5.36,9)(5.45,9)(5.54,9)(5.67,9)(5.82,9)(5.98,9)(6.47,9)(6.55,9)(6.63,9)(6.7,9)(6.78,9)(6.86,9)(6.93,9)(7.06,9)(7.18,9)(7.52,9)(7.59,9)(7.65,9)(7.71,9)(7.77,9)(7.83,9)(7.91,9)(8.92,9)(8.99,9)(9.07,9)(9.15,9)(9.23,9)(9.3,9)(9.38,9)(9.46,9)(9.54,9)(9.69,9)(9.81,9)(10.28,9)(10.46,9)(11.0,9)(11.08,9)(11.16,9)(11.24,9)(11.7,9)(11.83,9)(11.93,9)(12.09,9)(12.24,9)(12.35,9)(12.48,9)(12.71,9)(12.91,9)};
\addplot[gene=cMZ] coordinates {(1.13,9)};

% ---- OZ185146.1 (y=8)
\addplot[gene=cM30] coordinates {(0.79,8)(0.9,8)(1.21,8)(1.95,8)(2.07,8)(2.18,8)(2.41,8)(2.6,8)(2.66,8)(2.72,8)(4.3,8)(5.82,8)(5.88,8)(6.16,8)(7.06,8)(7.09,8)(8.07,8)(8.22,8)(8.3,8)(10.08,8)(11.73,8)};
\addplot[gene=cM14] coordinates {(1.8,8)};
\addplot[gene=cM3] coordinates {(4.01,8)};

% ---- OZ185147.1 (y=7)
\addplot[gene=cM25] coordinates {(0.17,7)(0.25,7)(0.37,7)(0.59,7)(1.05,7)(1.41,7)(1.92,7)(2.03,7)(2.49,7)(2.8,7)(2.88,7)(2.96,7)(3.03,7)(3.11,7)(3.31,7)(3.39,7)(3.47,7)(3.54,7)(3.84,7)(3.96,7)(4.15,7)(4.27,7)(4.5,7)(4.74,7)(4.97,7)(5.17,7)(5.48,7)(5.63,7)(6.67,7)(6.75,7)(6.83,7)(6.9,7)(7.06,7)(7.21,7)(7.52,7)(7.6,7)(7.71,7)(7.8,7)(7.91,7)(7.99,7)(8.14,7)(8.45,7)(8.53,7)(8.76,7)(9.61,7)(9.69,7)(9.77,7)(9.85,7)(9.92,7)(10.0,7)(10.19,7)(10.39,7)(11.24,7)(11.39,7)(11.55,7)(11.89,7)};
\addplot[gene=cM3] coordinates {(6.02,7)(11.05,7)};
\addplot[gene=cM14] coordinates {(7.41,7)};
\addplot[gene=cM12] coordinates {(9.01,7)};

% ---- OZ185148.1 (y=6)
\addplot[gene=cM27] coordinates {(0.09,6)(0.63,6)(1.76,6)(3.45,6)(4.63,6)(5.82,6)(5.9,6)(5.98,6)(6.05,6)(6.83,6)(7.71,6)(7.91,6)(8.22,6)(8.3,6)(8.37,6)(8.48,6)(8.64,6)(9.69,6)(9.81,6)(10.59,6)(10.8,6)(10.9,6)(10.96,6)(11.5,6)};
\addplot[gene=cM2] coordinates {(2.26,6)};
\addplot[gene=cM11] coordinates {(8.95,6)};
\addplot[gene=cM14] coordinates {(10.15,6)};

% ---- OZ185149.1 (y=5)
\addplot[gene=cM24] coordinates {(0.56,5)(0.62,5)(0.68,5)(0.74,5)(0.99,5)(1.18,5)(1.61,5)(1.69,5)(1.76,5)(2.07,5)(2.38,5)(2.45,5)(2.49,5)(2.69,5)(2.76,5)(2.8,5)(3.11,5)(4.4,5)(4.46,5)(5.12,5)(5.36,5)(5.48,5)(5.59,5)(5.94,5)(6.21,5)(6.36,5)(6.49,5)(6.59,5)(6.67,5)(6.72,5)(6.87,5)(7.06,5)(7.24,5)(9.07,5)(9.15,5)(9.35,5)(9.58,5)(9.88,5)(9.97,5)(10.12,5)(10.46,5)(10.54,5)(10.62,5)(10.7,5)};
\addplot[gene=cM11] coordinates {(4.27,5)};
\addplot[gene=cM3] coordinates {(7.18,5)};

% ---- OZ185150.1 (y=4)
\addplot[gene=cM28] coordinates {(0.71,4)(0.79,4)(0.9,4)(1.05,4)(1.3,4)(1.61,4)(1.92,4)(2.11,4)(2.18,4)(2.34,4)(3.84,4)(3.99,4)(4.2,4)(4.71,4)(5.2,4)(5.28,4)(5.67,4)(5.74,4)(6.41,4)(6.47,4)(6.56,4)(6.93,4)(7.14,4)(7.65,4)(7.76,4)(8.22,4)(8.42,4)(8.48,4)(8.58,4)(9.07,4)(9.26,4)(9.66,4)(9.77,4)};

% ---- OZ185151.1 (y=3)
\addplot[gene=cM26] coordinates {(1.48,3)(1.95,3)(2.34,3)(2.41,3)(2.46,3)(2.75,3)(2.82,3)(2.92,3)(4.28,3)(5.64,3)(5.98,3)(6.06,3)(6.15,3)(6.28,3)(6.37,3)(6.45,3)(6.62,3)(6.84,3)(7.13,3)(7.2,3)(7.25,3)(7.56,3)(7.64,3)(7.81,3)(7.88,3)(7.95,3)(8.06,3)(8.23,3)(8.57,3)(9.13,3)};
\addplot[gene=cM3] coordinates {(7.05,3)};

% ---- OZ185152.1 (y=2)
\addplot[gene=cM31] coordinates {(0.34,2)(0.42,2)(0.76,2)(0.97,2)(1.66,2)(2.24,2)(4.79,2)(5.35,2)(5.43,2)(5.65,2)(5.74,2)(5.99,2)(6.32,2)(6.93,2)(7.27,2)(7.59,2)(7.89,2)(8.06,2)};
\addplot[gene=cM3] coordinates {(6.76,2)};

% ---- OZ185153.1 (y=1)
\addplot[gene=cM29] coordinates {(0.25,1)(0.34,1)(0.42,1)(0.51,1)(0.68,1)(0.76,1)(0.85,1)(1.32,1)(1.61,1)(2.29,1)(3.4,1)(3.48,1)(3.57,1)(3.65,1)(4.67,1)(4.84,1)(5.01,1)(5.23,1)(5.43,1)(5.6,1)(5.82,1)(5.94,1)(6.11,1)(6.28,1)(6.62,1)(7.05,1)(7.44,1)(7.78,1)(7.84,1)};
\addplot[gene=cMZ] coordinates {(3.31,1)};

% chromosome outlines, drawn over the gene ticks
\addplot[forget plot, xbar, bar width=0.8, draw=black!85, fill=none, line width=0.9pt]
  coordinates {(23.9,32)(19.65,31)(19.56,30)(19.08,29)(19.02,28)(18.49,27)(18.29,26)(18.13,25)
  (18.09,24)(17.78,23)(17.78,22)(17.33,21)(16.85,20)(16.82,19)(16.32,18)(16.12,17)(15.92,16)
  (15.36,15)(15.35,14)(14.91,13)(14.68,12)(14.33,11)(13.88,10)(12.99,9)(12.48,8)(12.05,7)
  (11.96,6)(11.85,5)(10.41,4)(10.41,3)(8.57,2)(8.0,1)};

% legend, filled row by row in two columns
\addlegendimage{fill=cMZ}\addlegendentry{MZ}
\addlegendimage{fill=cM16}\addlegendentry{M16}
\addlegendimage{fill=cM1}\addlegendentry{M1}
\addlegendimage{fill=cM17}\addlegendentry{M17}
\addlegendimage{fill=cM2}\addlegendentry{M2}
\addlegendimage{fill=cM18}\addlegendentry{M18}
\addlegendimage{fill=cM3}\addlegendentry{M3}
\addlegendimage{fill=cM19}\addlegendentry{M19}
\addlegendimage{fill=cM4}\addlegendentry{M4}
\addlegendimage{fill=cM20}\addlegendentry{M20}
\addlegendimage{fill=cM5}\addlegendentry{M5}
\addlegendimage{fill=cM21}\addlegendentry{M21}
\addlegendimage{fill=cM6}\addlegendentry{M6}
\addlegendimage{fill=cM22}\addlegendentry{M22}
\addlegendimage{fill=cM7}\addlegendentry{M7}
\addlegendimage{fill=cM23}\addlegendentry{M23}
\addlegendimage{fill=cM8}\addlegendentry{M8}
\addlegendimage{fill=cM24}\addlegendentry{M24}
\addlegendimage{fill=cM9}\addlegendentry{M9}
\addlegendimage{fill=cM25}\addlegendentry{M25}
\addlegendimage{fill=cM10}\addlegendentry{M10}
\addlegendimage{fill=cM26}\addlegendentry{M26}
\addlegendimage{fill=cM11}\addlegendentry{M11}
\addlegendimage{fill=cM27}\addlegendentry{M27}
\addlegendimage{fill=cM12}\addlegendentry{M12}
\addlegendimage{fill=cM28}\addlegendentry{M28}
\addlegendimage{fill=cM13}\addlegendentry{M13}
\addlegendimage{fill=cM29}\addlegendentry{M29}
\addlegendimage{fill=cM14}\addlegendentry{M14}
\addlegendimage{fill=cM30}\addlegendentry{M30}
\addlegendimage{fill=cM15}\addlegendentry{M15}
\addlegendimage{fill=cM31}\addlegendentry{M31}

\node[anchor=base west, font=\fontsize{11.4}{13}\selectfont]
  at (rel axis cs:1.0266,0.6877) {Merian elements};
\end{axis}
\path (current axis.south west) ++(-65.4pt,-42pt) rectangle ++(800pt,912pt);
\end{tikzpicture}
\end{document}
